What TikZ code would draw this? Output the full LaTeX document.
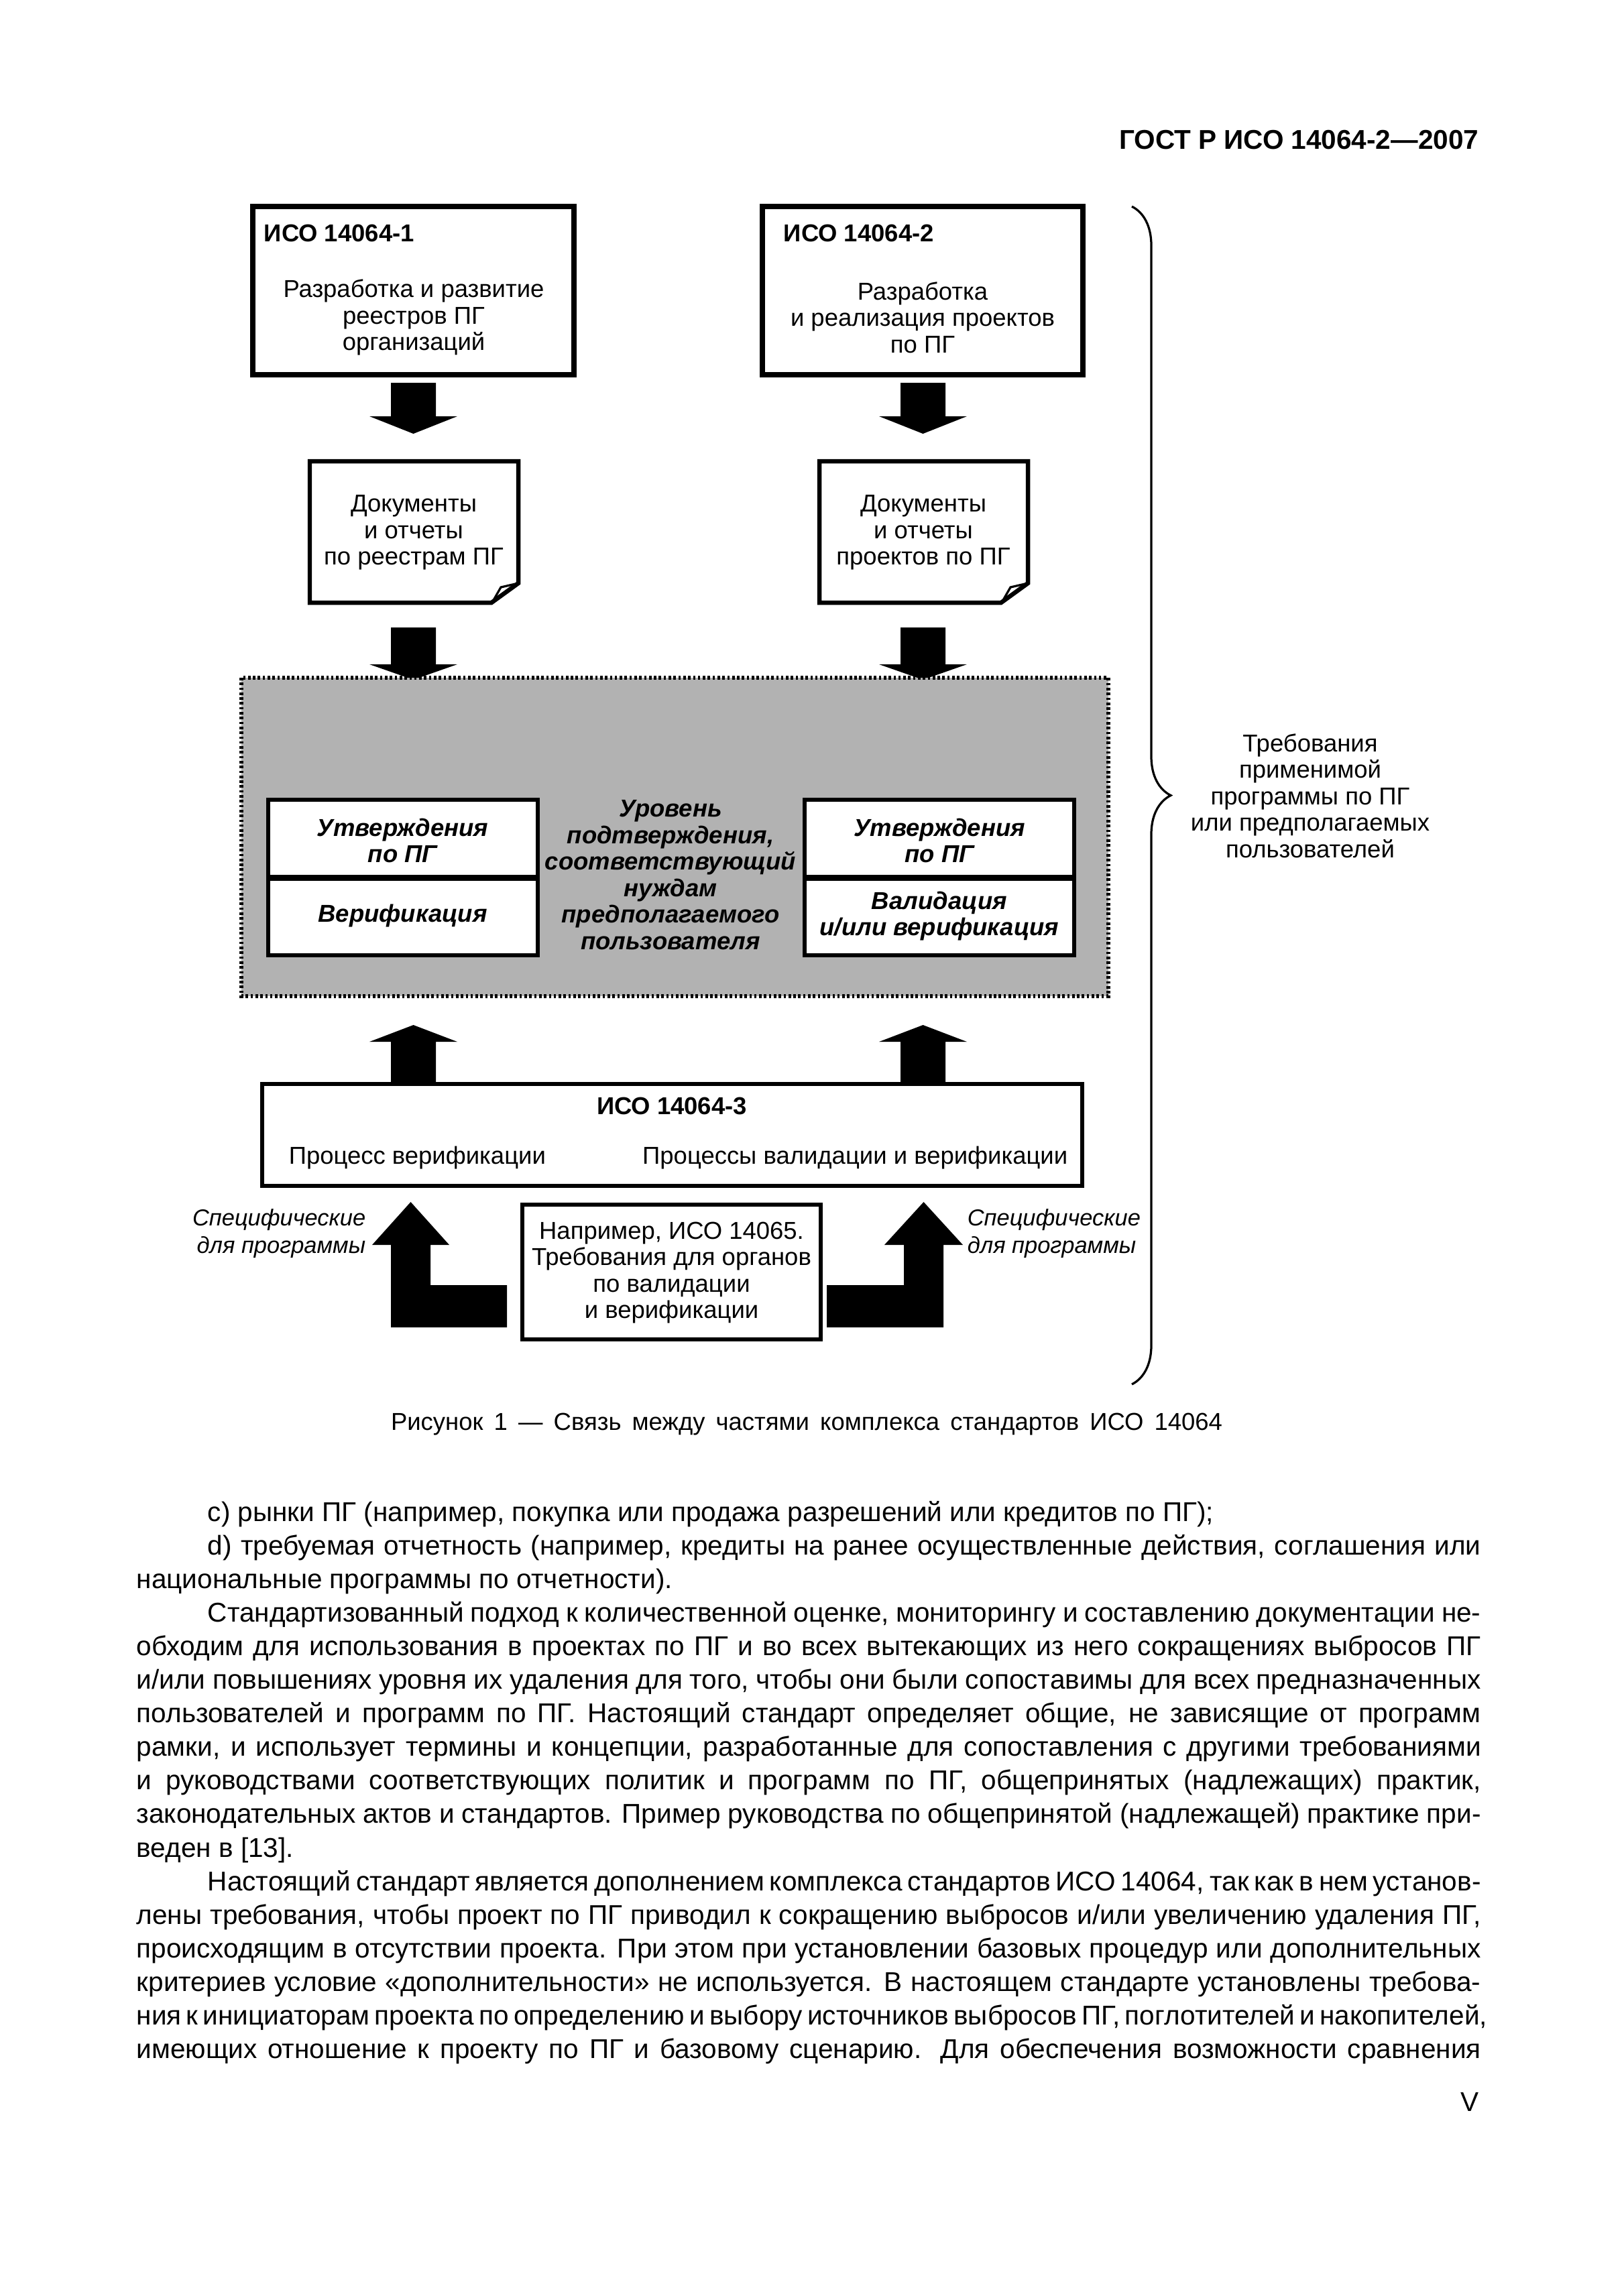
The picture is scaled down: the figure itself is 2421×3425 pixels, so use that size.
\documentclass[tikz,border=0pt]{standalone}
\usepackage{fontspec}
\setmainfont{Liberation Sans}
\usetikzlibrary{decorations.pathreplacing}

\newdimen\tw \tw=173.9mm
\newdimen\ind \ind=9.2mm
\newcommand\sps{\spaceskip=0.278em plus 0.3em minus 0.1em\relax}
\newcommand\jl[1]{\sps\hbox to \tw{#1}}
\newcommand\ji[1]{\sps\hbox to \tw{\hskip\ind #1}}
\newcommand\rl[1]{\hbox{#1}}
\newcommand\ri[1]{\hbox{\hskip\ind #1}}

\begin{document}
\begin{tikzpicture}[x=0.08674mm, y=-0.08674mm,
  dtext/.style={font=\fontsize{9}{9.74}\selectfont, align=center, inner sep=0},
  btext/.style={dtext, font=\fontsize{9}{9.74}\selectfont\bfseries},
  bitext/.style={dtext, font=\fontsize{9}{9.74}\selectfont\bfseries\itshape},
  itext/.style={dtext, font=\fontsize{8.5}{10.1}\selectfont\itshape},
  frame/.style={line width=2pt},
  thinframe/.style={line width=1.6pt},
  body/.style={font=\fontsize{10}{12.3}\selectfont, inner sep=0, anchor=base west}]

  \fill[white] (0,0) rectangle (2421,3425);
  \useasboundingbox (0,0) rectangle (2421,3425);

  %header
  \node[font=\fontsize{10}{12}\selectfont\bfseries, inner sep=0, anchor=east] (head) at (2206,209) {ГОСТ Р ИСО 14064-2—2007};

  %top boxes
  \draw[frame] (377,308) rectangle (856,559);
  \draw[frame] (1137,308) rectangle (1615,559);
  \node[btext, anchor=west] (iso1) at (393,348) {ИСО 14064-1};
  \node[btext, anchor=west] (iso2) at (1168,348) {ИСО 14064-2};
  \node[dtext] (dev1) at (617,473.5) {Разработка и развитие\\реестров ПГ\\организаций};
  \node[dtext] (dev2) at (1376,473.5) {Разработка\\и реализация проектов\\по ПГ};

  %documents
  \foreach \x in {462,1222}{
    \draw[thinframe, fill=white, line join=miter] (\x,688) -- (\x+311,688) -- (\x+311,870) -- (\x+271,899) -- (\x,899) -- cycle;
    \draw[line width=0.8pt] (\x+311,870) -- (\x+285,876) -- (\x+273,897);
  }
  \node[dtext] (doc1) at (617,794.5) {Документы\\и отчеты\\по реестрам ПГ};
  \node[dtext] (doc2) at (1377,794.5) {Документы\\и отчеты\\проектов по ПГ};

  %block arrows down
  \def\sw{33.5};
  \def\hw{65.5};
  \foreach \c in {616.5,1376.5}{
    \fill (\c-\sw,571) -- (\c+\sw,571) -- (\c+\sw,621) -- (\c+\hw,621) -- (\c,647) -- (\c-\hw,621) -- (\c-\sw,621) -- cycle;
    \fill (\c-\sw,936) -- (\c+\sw,936) -- (\c+\sw,991) -- (\c+\hw,991) -- (\c,1014) -- (\c-\hw,991) -- (\c-\sw,991) -- cycle;
  }

  %grey level box
  \draw[fill=black!30, line width=1.5pt, dash pattern=on 0.9pt off 0.9pt] (360,1011) rectangle (1653,1486);
  \foreach \x in {400,1200}{
    \draw[thinframe, fill=white] (\x,1193) rectangle (\x+402,1308);
    \draw[thinframe, fill=white] (\x,1311) rectangle (\x+402,1425);
  }
  \node[bitext] (claimL) at (600.5,1254) {Утверждения\\по ПГ};
  \node[bitext] (verL) at (600.5,1366) {Верификация};
  \node[bitext] (claimR) at (1401,1254) {Утверждения\\по ПГ};
  \node[bitext] (valR) at (1401,1366.5) {Валидация\\и/или верификация};
  \node[bitext] (level) at (1000,1305) {Уровень\\подтверждения,\\соответствующий\\нуждам\\предполагаемого\\пользователя};

  %block arrows up
  \foreach \c in {616.5,1376.5}{
    \fill (\c-\sw,1617) -- (\c+\sw,1617) -- (\c+\sw,1554) -- (\c+\hw,1554) -- (\c,1529) -- (\c-\hw,1554) -- (\c-\sw,1554) -- cycle;
  }

  %ISO 14064-3
  \draw[thinframe] (391,1617) rectangle (1614,1769);
  \node[btext] (iso3) at (1002,1650) {ИСО 14064-3};
  \node[dtext, anchor=west] (procL) at (430,1727) {Процесс верификации};
  \node[dtext, anchor=east] (procR) at (1593,1727) {Процессы валидации и верификации};

  %bottom
  \draw[thinframe] (779,1797) rectangle (1224,1998);
  \node[dtext] (iso14065) at (1001.5,1898.5) {Например, ИСО 14065.\\Требования для органов\\по валидации\\и верификации};
  \fill (583,1980) -- (756,1980) -- (756,1917) -- (642,1917) -- (642,1857) -- (670,1857) -- (612.5,1793) -- (555,1857) -- (583,1857) -- cycle;
  \fill (1407,1980) -- (1233,1980) -- (1233,1917) -- (1348,1917) -- (1348,1857) -- (1319,1857) -- (1377.5,1793) -- (1436,1857) -- (1407,1857) -- cycle;
  \node[itext, align=right, anchor=east] (specL) at (546,1840.5) {Специфические\\для программы};
  \node[itext, align=left, anchor=west] (specR) at (1442,1840.5) {Специфические\\для программы};

  %brace
  \coordinate (btop) at (1688,308);
  \coordinate (bbot) at (1688,2065);
  \draw[line width=0.8pt, decorate, decoration={brace, amplitude=5.03mm}] (btop) -- (bbot);
  \node[dtext] (req) at (1954,1187) {Требования\\применимой\\программы по ПГ\\или предполагаемых\\пользователей};

  %caption
  \node[font=\fontsize{9}{11}\selectfont, inner sep=0] (caption) at (1203,2125) {\hbox to 107.56mm{Рисунок 1 — Связь между частями комплекса стандартов ИСО 14064}};

  %text
  \def\lx{203};
  \def\ly{2269};
  \def\ls{50.1};
  \node[body] (l0) at (\lx,\ly) {\ri{c) рынки ПГ (например, покупка или продажа разрешений или кредитов по ПГ);}};
  \node[body] (l1) at (\lx,\ly+\ls) {\ji{d) требуемая отчетность (например, кредиты на ранее осуществленные действия, соглашения или}};
  \node[body] (l2) at (\lx,\ly+2*\ls) {\rl{национальные программы по отчетности).}};
  \node[body] (l3) at (\lx,\ly+3*\ls) {\ji{Стандартизованный подход к количественной оценке, мониторингу и составлению документации не-}};
  \node[body] (l4) at (\lx,\ly+4*\ls) {\jl{обходим для использования в проектах по ПГ и во всех вытекающих из него сокращениях выбросов ПГ}};
  \node[body] (l5) at (\lx,\ly+5*\ls) {\jl{и/или повышениях уровня их удаления для того, чтобы они были сопоставимы для всех предназначенных}};
  \node[body] (l6) at (\lx,\ly+6*\ls) {\jl{пользователей и программ по ПГ. Настоящий стандарт определяет общие, не зависящие от программ}};
  \node[body] (l7) at (\lx,\ly+7*\ls) {\jl{рамки, и использует термины и концепции, разработанные для сопоставления с другими требованиями}};
  \node[body] (l8) at (\lx,\ly+8*\ls) {\jl{и руководствами соответствующих политик и программ по ПГ, общепринятых (надлежащих) практик,}};
  \node[body] (l9) at (\lx,\ly+9*\ls) {\jl{законодательных актов и стандартов. Пример руководства по общепринятой (надлежащей) практике при-}};
  \node[body] (l10) at (\lx,\ly+10*\ls) {\rl{веден в [13].}};
  \node[body] (l11) at (\lx,\ly+11*\ls) {\ji{Настоящий стандарт является дополнением комплекса стандартов ИСО 14064, так как в нем установ-}};
  \node[body] (l12) at (\lx,\ly+12*\ls) {\jl{лены требования, чтобы проект по ПГ приводил к сокращению выбросов и/или увеличению удаления ПГ,}};
  \node[body] (l13) at (\lx,\ly+13*\ls) {\jl{происходящим в отсутствии проекта. При этом при установлении базовых процедур или дополнительных}};
  \node[body] (l14) at (\lx,\ly+14*\ls) {\jl{критериев условие «дополнительности» не используется. В настоящем стандарте установлены требова-}};
  \node[body] (l15) at (\lx,\ly+15*\ls) {\jl{ния к инициаторам проекта по определению и выбору источников выбросов ПГ, поглотителей и накопителей,}};
  \node[body] (l16) at (\lx,\ly+16*\ls) {\jl{имеющих отношение к проекту по ПГ и базовому сценарию. Для обеспечения возможности сравнения}};

  %page number
  \node[font=\fontsize{10}{12}\selectfont, inner sep=0, anchor=east] (pageno) at (2206,3136) {V};

\end{tikzpicture}
\end{document}
